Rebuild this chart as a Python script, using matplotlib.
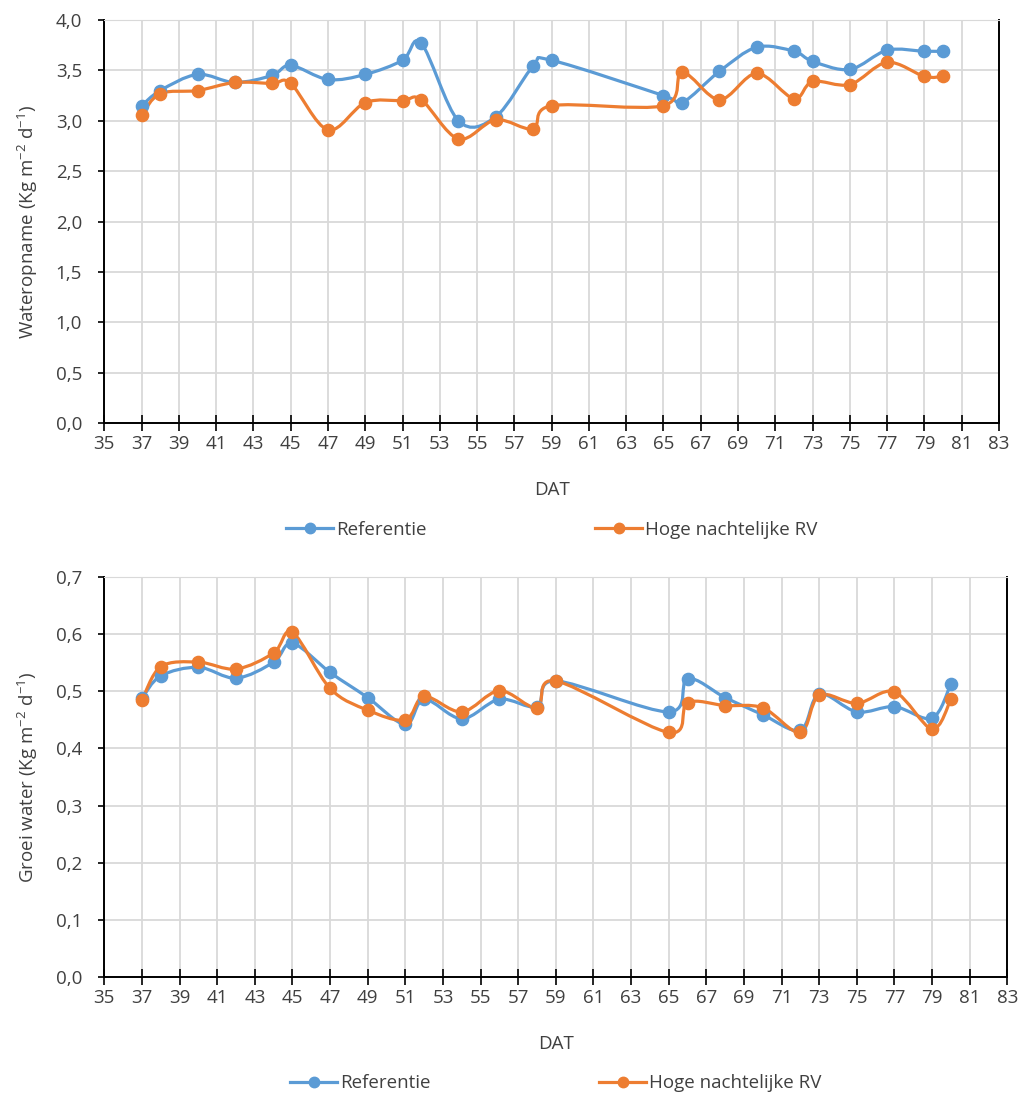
import numpy as np
import matplotlib
matplotlib.use("Agg")
import matplotlib.pyplot as plt
from matplotlib.path import Path
from matplotlib.patches import PathPatch
from matplotlib.lines import Line2D
from matplotlib.ticker import MultipleLocator, FuncFormatter

plt.rcParams['font.family'] = ['Open Sans', 'DejaVu Sans']
plt.rcParams['mathtext.default'] = 'regular'

# data (days after transplanting)
dat = [37, 38, 40, 42, 44, 45, 47, 49, 51, 52, 54, 56, 58, 59,
       65, 66, 68, 70, 72, 73, 75, 77, 79, 80]

opname_ref = [3.15, 3.30, 3.46, 3.38, 3.45, 3.55, 3.41, 3.46, 3.60, 3.77, 3.00, 3.04, 3.54, 3.60,
              3.25, 3.18, 3.49, 3.73, 3.69, 3.59, 3.51, 3.70, 3.69, 3.69]
opname_rv = [3.06, 3.27, 3.30, 3.38, 3.37, 3.37, 2.91, 3.18, 3.20, 3.21, 2.82, 3.01, 2.92, 3.15,
             3.15, 3.48, 3.21, 3.47, 3.22, 3.39, 3.36, 3.58, 3.44, 3.44]

groei_ref = [0.488, 0.527, 0.542, 0.523, 0.551, 0.584, 0.533, 0.489, 0.442, 0.486, 0.452, 0.486, 0.473, 0.518,
             0.464, 0.522, 0.489, 0.459, 0.432, 0.495, 0.464, 0.473, 0.453, 0.513]
groei_rv = [0.484, 0.543, 0.551, 0.539, 0.567, 0.603, 0.505, 0.467, 0.450, 0.491, 0.464, 0.501, 0.471, 0.518,
            0.428, 0.480, 0.475, 0.471, 0.428, 0.493, 0.479, 0.499, 0.434, 0.486]

xticks = list(range(35, 84, 2))
labels = ["Referentie", "Hoge nachtelijke RV"]
colors = ["#5B9BD5", "#ED7D31"]
txt = '#404040'
fs = 13.5


def smooth_path(x, y):
    # catmull-rom style bezier, like excel's smoothed line
    p = np.column_stack([x, y]).astype(float)
    n = len(p)
    verts = [p[0]]
    codes = [Path.MOVETO]
    for i in range(n - 1):
        p0 = p[i - 1] if i > 0 else p[i]
        p3 = p[i + 2] if i + 2 < n else p[i + 1]
        c1 = p[i] + (p[i + 1] - p0) / 6
        c2 = p[i + 1] - (p3 - p[i]) / 6
        verts += [c1, c2, p[i + 1]]
        codes += [Path.CURVE4] * 3
    return Path(verts, codes)


def draw(ax, series, ymax, ystep, ylabel):
    for y, c in zip(series, colors):
        ax.add_patch(PathPatch(smooth_path(dat, y), fill=False, ec=c, lw=2.3,
                               transform=ax.transData, zorder=3))
        ax.plot(dat, y, 'o', color=c, ms=8.8, zorder=4)
    ax.set_xlim(35, 83)
    ax.set_ylim(0, ymax)
    ax.set_xticks(xticks)
    ax.yaxis.set_major_locator(MultipleLocator(ystep))
    ax.yaxis.set_major_formatter(FuncFormatter(lambda v, p: f"{v:.1f}".replace('.', ',')))
    ax.grid(True, color="#D9D9D9", lw=1.3, zorder=0)
    ax.set_axisbelow(True)
    for s in ['left', 'bottom', 'right']:
        ax.spines[s].set_color('black')
        ax.spines[s].set_linewidth(1.4)
    ax.spines['top'].set_color('#D9D9D9')
    ax.tick_params(axis='x', direction='inout', length=11, width=1.2, labelsize=fs,
                   labelcolor=txt, color='black', pad=3)
    ax.tick_params(axis='y', direction='out', length=4, width=1.2, labelsize=fs,
                   labelcolor=txt, color='black', pad=12)
    ax.set_xlabel("DAT", fontsize=fs, color=txt, labelpad=20)
    ax.set_ylabel(ylabel, fontsize=fs, color=txt, labelpad=11)
    handles = [Line2D([], [], color=c, lw=2.3, marker='o', ms=7.5) for c in colors]
    ax.legend(handles, labels, loc='center', bbox_to_anchor=(0.5, -0.265), ncol=2,
              frameon=False, fontsize=fs, handlelength=2.5, handletextpad=0.15,
              columnspacing=9, labelcolor=txt)


fig = plt.figure(figsize=(10.23, 10.94), dpi=100)
ax1 = fig.add_axes([0.1020, 0.6133, 0.8745, 0.3684])
ax2 = fig.add_axes([0.1020, 0.1069, 0.8827, 0.3657])

draw(ax1, [opname_ref, opname_rv], 4.0, 0.5, r"Wateropname (Kg m$^{-2}$ d$^{-1}$)")
draw(ax2, [groei_ref, groei_rv], 0.7, 0.1, r"Groei water (Kg m$^{-2}$ d$^{-1}$)")

fig.savefig("out.png", dpi=100)
